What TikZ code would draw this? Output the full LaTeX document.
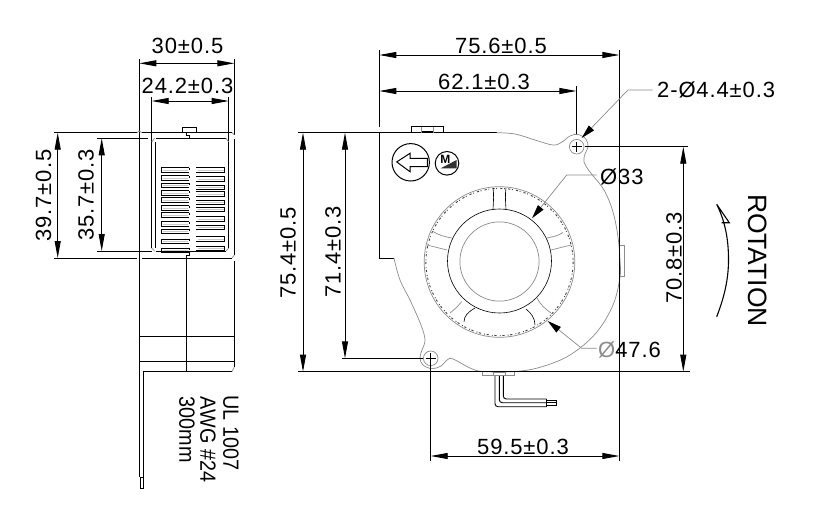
\documentclass[tikz,border=0pt]{standalone}
\usepackage{fontspec}
\setmainfont{Liberation Sans}
\newfontfamily\dimfont[LetterSpace=4]{Liberation Sans}
\usetikzlibrary{arrows.meta}
\definecolor{hairgray}{gray}{0.55}
\tikzset{
  x=1pt,y=-1pt,
  ln/.style={black,line width=0.9pt},
  gr/.style={hairgray,line width=0.7pt},
  dimline/.style={black,line width=0.9pt,{Triangle[length=17pt,width=6pt]}-{Triangle[length=17pt,width=6pt]}},
  lead/.style={hairgray,line width=0.7pt,-{Triangle[length=14pt,width=7pt,black]}},
  dimtext/.style={font=\dimfont\fontsize{22}{22}\selectfont,inner sep=0pt,text=black},
  note/.style={font=\fontsize{22}{22}\selectfont,inner sep=0pt,rotate=-90,xscale=0.9}
}
\begin{document}
\begin{tikzpicture}
\useasboundingbox (0,0) rectangle (815,515);
\fill[white] (0,0) rectangle (815,515);
% ---- side view ----
\draw[ln] (139.3,59) -- (139.3,372) -- (140,372);
\draw[ln] (234.3,59) -- (234.3,135) (234.3,139) -- (234.3,255) (234.3,261) -- (234.3,367);
\draw[ln] (151.7,97) -- (151.7,248);
\draw[ln] (155.7,142) -- (155.7,248);
\draw[ln] (228.7,97) -- (228.7,248);
\draw[ln] (54,132.7) -- (137,132.7) (142,132.7) -- (232,132.7);
\draw[ln] (54,258) -- (137,258) (142,258) -- (232,258);
\draw[ln] (97,138.3) -- (148,138.3) (156,138.3) -- (226,138.3);
\draw[ln] (97,251) -- (151.7,251) (155.7,251) -- (226,251);
\draw[gr] (151.7,142) -- (154.5,138.3) (228.7,142) -- (226,138.3) (151.7,248) -- (154.5,251) (228.7,248) -- (226,251);
\draw[gr] (137,132.7) -- (139.3,131) -- (142,132.7) (232,132.7) -- (234.3,135) (232,258) -- (234.3,255);
\draw[ln] (182.3,132.7) rectangle (196.3,127.3);
\draw[ln] (186,132.7) -- (186,135) -- (189.3,135) -- (189.3,138.3);
\draw[ln] (189.3,251) -- (189.3,255) -- (186.3,255) -- (186.3,372);
\foreach \yy in {167.5,175.5,183,190.5,197.5,205.5,212.5,221.5,229,239,248}{
  \draw[ln,line width=0.8pt] (161.3,\yy) -- (189.3,\yy) (161.3,\yy) -- (161.3,\yy+4.4) -- (189.3,\yy+4.4) (189.3,\yy) -- (189.3,\yy+2);
  \draw[hairgray!45,line width=0.8pt] (162.5,\yy+2.4) -- (188,\yy+2.4);
}
\foreach \yy in {167.5,176.7,185,191.7,200,207.3,216.7,225,236.7,246}{
  \draw[ln,line width=0.8pt] (196.3,\yy) -- (224.7,\yy) -- (224.7,\yy+4.4) -- (196.3,\yy+4.4);
  \draw[hairgray!45,line width=0.8pt] (197.5,\yy+2.4) -- (223.5,\yy+2.4);
}
\draw[ln] (139.3,336.3) -- (234.3,336.3);
\draw[ln] (139.3,361.7) -- (234.3,361.7);
\draw[ln] (143,371.7) -- (232,371.7);
\draw[gr] (232,371.7) -- (234.3,367);
\draw[ln] (143,371.7) -- (143,477);
\draw[ln] (139.8,372) -- (139.8,477);
\draw[ln,line width=0.7pt] (140,477) rectangle (143.3,488);
% side view dims
\draw[dimline] (139.3,63.3) -- (234.3,63.3);
\draw[dimline] (151.7,101) -- (228.7,101);
\draw[dimline] (57.7,132.7) -- (57.7,258);
\draw[dimline] (101.7,138.3) -- (101.7,251);
\node[dimtext] (d30) at (187.5,46) {30±0.5};
\node[dimtext] (d24) at (187.5,86) {24.2±0.3};
\node[dimtext,rotate=90] (d39) at (43.5,195.5) {39.7±0.5};
\node[dimtext,rotate=90] (d35) at (86,195) {35.7±0.3};
\node[note] (ul) at (231,433) {UL 1007};
\node[note] (awg) at (208,439.5) {AWG \#24};
\node[note] (len) at (187,429.5) {300mm};
% ---- front view ----
\draw[ln] (379.3,258.3) -- (379.3,132.7) -- (496.7,132.7);
\draw[ln] (379.3,258.3) -- (394,258.3);
\draw[gr] plot[smooth,tension=0.6] coordinates {(496.7,132.7) (515,134) (535,140) (553,145) (562,142) (570,136) (578,134.5) (586,139) (588,147) (585,154) (584,162) (590,172) (604,190) (613,212) (618,237) (620,260) (620,277) (613,305) (596,333) (570,355) (541,367) (515,371.5) (483,371.5) (470,368) (453,359) (447,360) (441,366) (432,368.7) (423,365) (420,358) (422,350) (425,340) (421,325) (410,300) (400,280) (394,258.3)};
% holes
\draw[gr] (576.7,146.7) circle (7.3);
\draw[gr] (430.7,358.3) circle (7.3);
\draw[black,line width=0.6pt] (571.5,146.7) -- (582,146.7) (576.7,141.5) -- (576.7,152);
\draw[black,line width=0.6pt] (425.5,358.3) -- (436,358.3) (430.7,353) -- (430.7,363.5);
% tabs
\draw[gr] (421.7,126.7) -- (421.7,132.7) (433,126.7) -- (433,132.7);
\draw[ln] (421.7,131.7) -- (433,131.7);
\draw[ln] (411,132.7) -- (411,126.7) -- (443.3,126.7) -- (443.3,132.7);
\draw[gr] (619.3,245) rectangle (624,276);
\draw[gr] (482.3,371.7) -- (482.3,375.7) -- (514.3,375.7) -- (514.3,371.7);
\draw[hairgray,line width=1.6pt] (493.3,372.5) -- (505,372.5);
\draw[gr] (493.3,371.7) -- (493.3,375.7) (505,371.7) -- (505,375.7);
% logo
\draw[black,line width=1pt] (410.7,162.3) circle (18.7);
\draw[black,line width=1pt,line join=miter] (396.7,161.9) -- (410,153.3) -- (410,158.3) -- (427.3,158.3) -- (427.3,166.7) -- (410,166.7) -- (410,171.7) -- cycle;
\draw[black,line width=1pt] (447,163.3) circle (11.8);
\fill[black!80] (440.7,168.3) -- (456.5,168.3) -- (456.5,160) -- cycle;
\node[font=\bfseries\fontsize{12}{12}\selectfont,inner sep=0pt] (logom) at (445.3,159.3) {M};
% wires
\draw[ln,rounded corners=3pt] (495,376) -- (495,406.7) -- (546.7,406.7);
\draw[ln,rounded corners=3pt] (499.3,376) -- (499.3,402.7) -- (546.7,402.7);
\draw[ln,rounded corners=3pt] (503.3,376) -- (503.3,399) -- (546.7,399);
\draw[ln] (546.7,399) -- (546.7,406.7);
\draw[black,line width=0.6pt] (546.7,400) -- (556.7,400) (546.7,402.5) -- (556.7,402.5) (546.7,405) -- (556.7,405) (556.7,400) -- (556.7,405);
% fan
\draw[gr] (499.5,262) circle (75.3);
\draw[black!75,line width=0.9pt,dash pattern=on 2.2pt off 1.6pt on 0.9pt off 3.2pt] (499.5,262) circle (73.6);
\draw[black,line width=0.6pt] (499.5,261) circle (52);
\draw[gr] (499.5,261.5) circle (39.6);
% struts
\draw[black,line width=0.6pt] (493,209.8) .. controls (493.5,200) and (494,195) .. (493,187.8);
\draw[black,line width=0.6pt] (506,209.8) .. controls (505.5,200) and (505,195) .. (506,187.8);
\draw[gr] (546.7,238) .. controls (552,237) and (558,236) .. (563,232.5);
\draw[gr] (551,250) -- (571,245);
\draw[gr] (451.7,238) .. controls (446,237) and (438,235) .. (433,231.5);
\draw[gr] (447,250) -- (427,245);
\draw[gr] (461.7,301.7) .. controls (458,306) and (455,309) .. (450,313);
\draw[black,line width=0.6pt] (475,308) .. controls (468,312) and (464,316) .. (464,322);
\draw[black,line width=0.6pt] (526,309) .. controls (531,313) and (535,318) .. (535,325);
\draw[gr] (537,298) .. controls (540,304) and (545,309) .. (551,313);
% front dims
\draw[ln] (379.3,50) -- (379.3,127);
\draw[ln] (619.3,50) -- (619.3,461);
\draw[ln] (576.3,86) -- (576.3,134);
\draw[ln] (430.7,364) -- (430.7,461);
\draw[ln] (298,132.7) -- (379.3,132.7);
\draw[ln] (298,371.7) -- (690,371.7);
\draw[ln] (342,358.3) -- (423,358.3);
\draw[ln] (585,146.7) -- (688,146.7);
\draw[dimline] (379.3,55) -- (619.3,55);
\draw[dimline] (379.3,91) -- (576.3,91);
\draw[dimline] (430.7,456) -- (619.3,456);
\draw[dimline] (303,132.7) -- (303,371.7);
\draw[dimline] (345,132.7) -- (345,358.3);
\draw[dimline] (683.3,146.7) -- (683.3,371.7);
\node[dimtext] (d756) at (501,46) {75.6±0.5};
\node[dimtext] (d621) at (484,82) {62.1±0.3};
\node[dimtext] (d595) at (523,447) {59.5±0.3};
\node[dimtext,rotate=90] (d754) at (288,253) {75.4±0.5};
\node[dimtext,rotate=90] (d714) at (333,252) {71.4±0.3};
\node[dimtext,rotate=90] (d708) at (674,258) {70.8±0.3};
\node[dimtext,anchor=west] (dhole) at (657,90) {2-Ø4.4±0.3};
\node[dimtext,anchor=west] (d33) at (600,177) {Ø33};
\node[dimtext,anchor=west] (d47) at (598,350) {\textcolor{hairgray}{Ø}47.6};
\draw[lead] (652.7,90) -- (628,90) -- (581.7,138);
\draw[lead] (596.7,175) -- (566.7,175) -- (532,218.3);
\draw[lead] (596.7,348.3) -- (581.7,348.3) -- (547.7,321);
% rotation
\node[font=\fontsize{26.5}{26.5}\selectfont,inner sep=0pt,rotate=-90] (rot) at (757.5,260.5) {ROTATION};
\draw[black,line width=1.1pt,line join=miter] (716.7,316.7) .. controls (726,293) and (728.5,275) .. (728.5,260) .. controls (728.5,245) and (727,225) .. (716.7,204.3) -- (729.3,222.7) -- (721.7,222.7);
\end{tikzpicture}
\end{document}
